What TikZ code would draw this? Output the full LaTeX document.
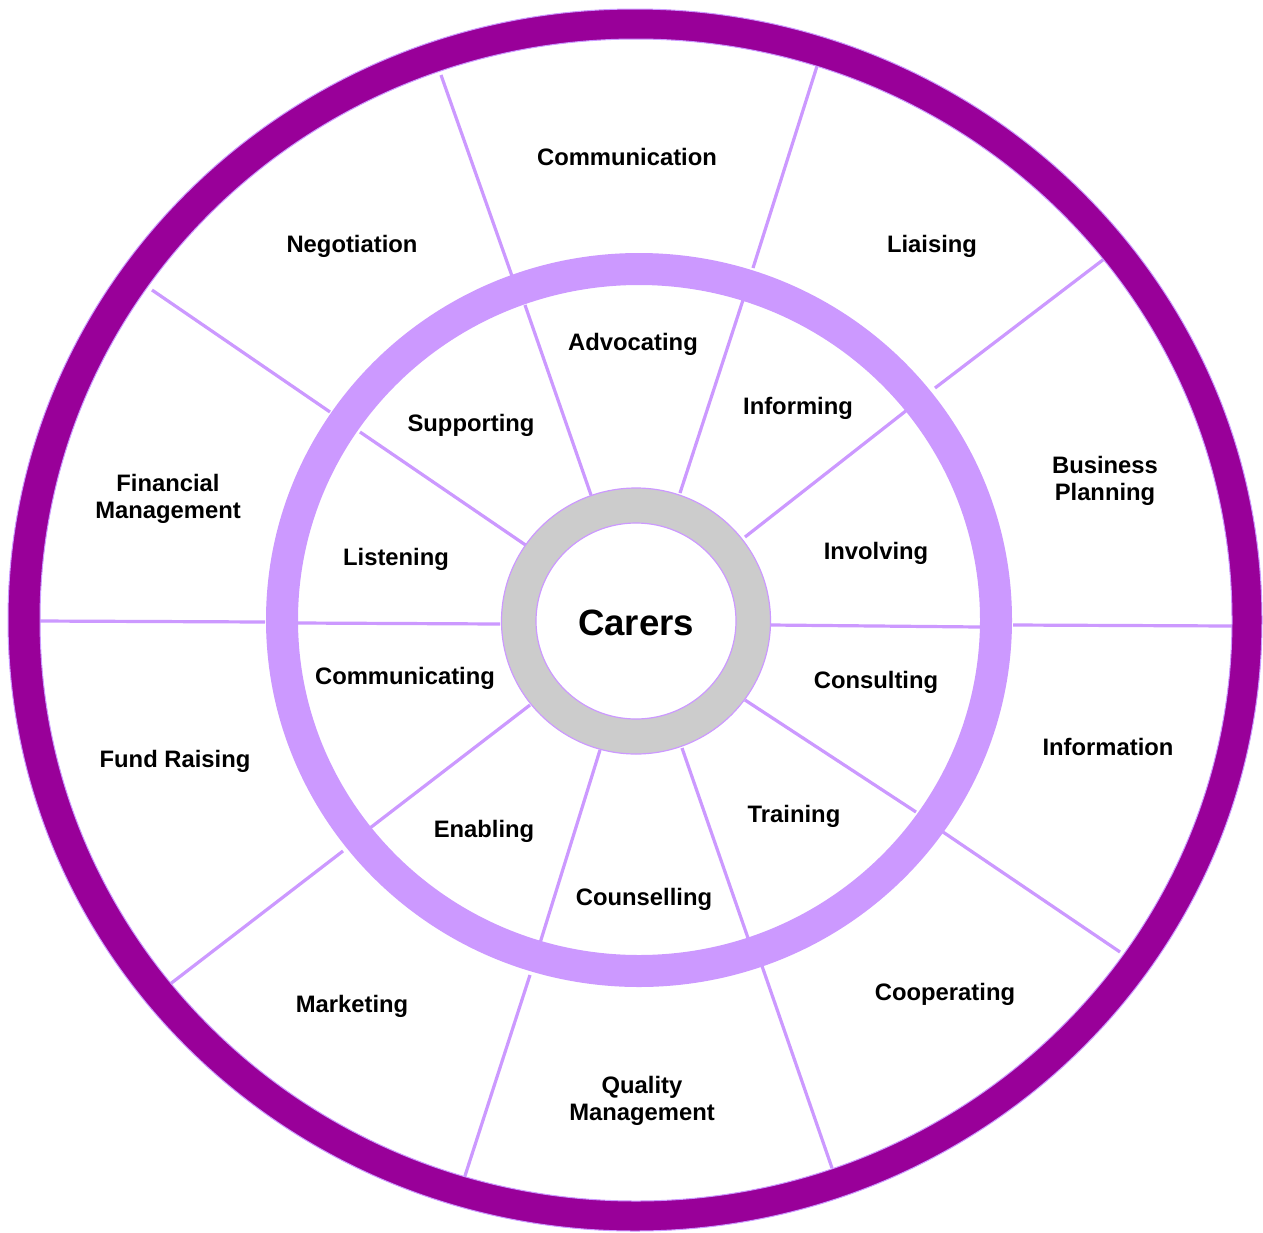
\documentclass[tikz,border=0pt]{standalone}
\usepackage{fontspec}
\setmainfont{Liberation Sans}
\definecolor{darkp}{HTML}{990099}
\definecolor{lightp}{HTML}{CC99FF}
\definecolor{greyr}{HTML}{CCCCCC}
\begin{document}
\begin{tikzpicture}[x=0.5pt,y=-0.5pt,
  spoke/.style={draw=lightp, line width=1.6pt},
  lbl/.style={font=\fontsize{11.9}{13.5}\selectfont\bfseries, align=center, inner sep=0pt},
  big/.style={font=\fontsize{18.3}{20}\selectfont\bfseries, inner sep=0pt}]
\useasboundingbox[fill=white] (0,0) rectangle (1263,1232);
% outer band spokes
\coordinate (o1a) at (441,75);   \coordinate (o1b) at (512,276);
\coordinate (o2a) at (818,63);   \coordinate (o2b) at (753,268);
\coordinate (o3a) at (1108,256); \coordinate (o3b) at (935,388);
\coordinate (o4a) at (1233,626); \coordinate (o4b) at (1013,625);
\coordinate (o5a) at (1120,952); \coordinate (o5b) at (943,832);
\coordinate (o6a) at (832,1168); \coordinate (o6b) at (762,966);
\coordinate (o7a) at (463,1182); \coordinate (o7b) at (530,975);
\coordinate (o8a) at (165,988);  \coordinate (o8b) at (343,851);
\coordinate (o9a) at (38,621);   \coordinate (o9b) at (265,622);
\coordinate (o10a) at (152,290); \coordinate (o10b) at (330,412);
\foreach \i in {1,...,10} \draw[spoke] (o\i a) -- (o\i b);
% inner band spokes
\coordinate (i1a) at (525,305);  \coordinate (i1b) at (591,495);
\coordinate (i2a) at (743,300);  \coordinate (i2b) at (680,493);
\coordinate (i3a) at (907,410);  \coordinate (i3b) at (745,537);
\coordinate (i4a) at (980,627);  \coordinate (i4b) at (771,625);
\coordinate (i5a) at (916,812);  \coordinate (i5b) at (745,700);
\coordinate (i6a) at (748,938);  \coordinate (i6b) at (682,748);
\coordinate (i7a) at (540,943);  \coordinate (i7b) at (600,750);
\coordinate (i8a) at (370,828);  \coordinate (i8b) at (530,705);
\coordinate (i9a) at (298,623);  \coordinate (i9b) at (500,624);
\coordinate (i10a) at (360,432); \coordinate (i10b) at (527,546);
\foreach \i in {1,...,10} \draw[spoke] (i\i a) -- (i\i b);
% rings
\fill[darkp, even odd rule, draw=lightp, line width=0.5pt]
  (635,620) ellipse [x radius=313.5pt, y radius=305.5pt]
  (636,620) ellipse [x radius=298pt, y radius=290.5pt];
\fill[lightp, even odd rule]
  (639,620) ellipse [x radius=186.5pt, y radius=183.5pt]
  (639,620) ellipse [x radius=170.5pt, y radius=167.5pt];
\fill[greyr, even odd rule, draw=lightp, line width=0.6pt]
  (636,621) ellipse [x radius=67.25pt, y radius=66.5pt]
  (636,621) ellipse [x radius=50pt, y radius=49pt];
% centre
\node[big] (carers) at (636,623) {Carers};
% outer labels
\node[lbl] (communication) at (627,157) {Communication};
\node[lbl] (liaising) at (932,246) {Liaising};
\node[lbl] (business) at (1105,481) {Business\\Planning};
\node[lbl] (information) at (1108,747) {Information};
\node[lbl] (cooperating) at (945,994) {Cooperating};
\node[lbl] (quality) at (642,1101) {Quality\\Management};
\node[lbl] (marketing) at (352,1006) {Marketing};
\node[lbl] (fund) at (175,761) {Fund Raising};
\node[lbl] (financial) at (168,499) {Financial\\Management};
\node[lbl] (negotiation) at (352,246) {Negotiation};
% middle labels
\node[lbl] (advocating) at (633,344) {Advocating};
\node[lbl] (informing) at (798,408) {Informing};
\node[lbl] (involving) at (876,553) {Involving};
\node[lbl] (consulting) at (876,682) {Consulting};
\node[lbl] (training) at (794,816) {Training};
\node[lbl] (counselling) at (644,899) {Counselling};
\node[lbl] (enabling) at (484,831) {Enabling};
\node[lbl] (communicating) at (405,678) {Communicating};
\node[lbl] (listening) at (396,559) {Listening};
\node[lbl] (supporting) at (471,425) {Supporting};
\end{tikzpicture}
\end{document}
